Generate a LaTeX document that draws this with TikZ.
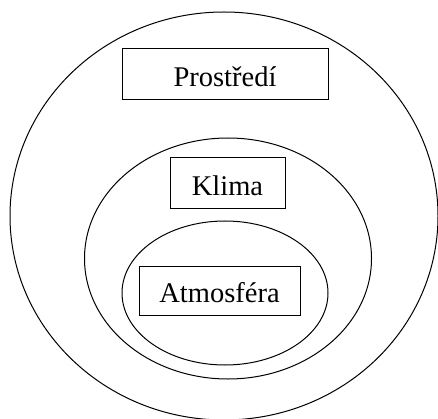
\documentclass[tikz,border=0pt]{standalone}
\usepackage{fontspec}
\setmainfont{Liberation Serif}
\begin{document}
\begin{tikzpicture}[x=1pt,y=-1pt,
  ring/.style={draw=black,line width=1pt},
  label box/.style={draw=black,line width=1pt,inner sep=0pt,
    font=\fontsize{28.5}{34}\selectfont,
    text height=24pt,text depth=0pt,align=center}]
  \useasboundingbox (0,0) rectangle (438,419);
  % nested spheres
  \draw[ring] (224,216) ellipse [x radius=214,y radius=204];
  \draw[ring] (228,258.5) ellipse [x radius=143.5,y radius=120.5];
  \draw[ring] (225,293) ellipse [x radius=103,y radius=72];
  % labels
  \node[label box,minimum width=206pt,minimum height=51pt] (prostredi) at (225,74.5) {Prostředí};
  \node[label box,minimum width=115pt,minimum height=51pt] (klima) at (227.5,183.5) {Klima};
  \node[label box,minimum width=161pt,minimum height=49pt] (atmosfera) at (219.5,290.5) {Atmosféra};
\end{tikzpicture}
\end{document}
